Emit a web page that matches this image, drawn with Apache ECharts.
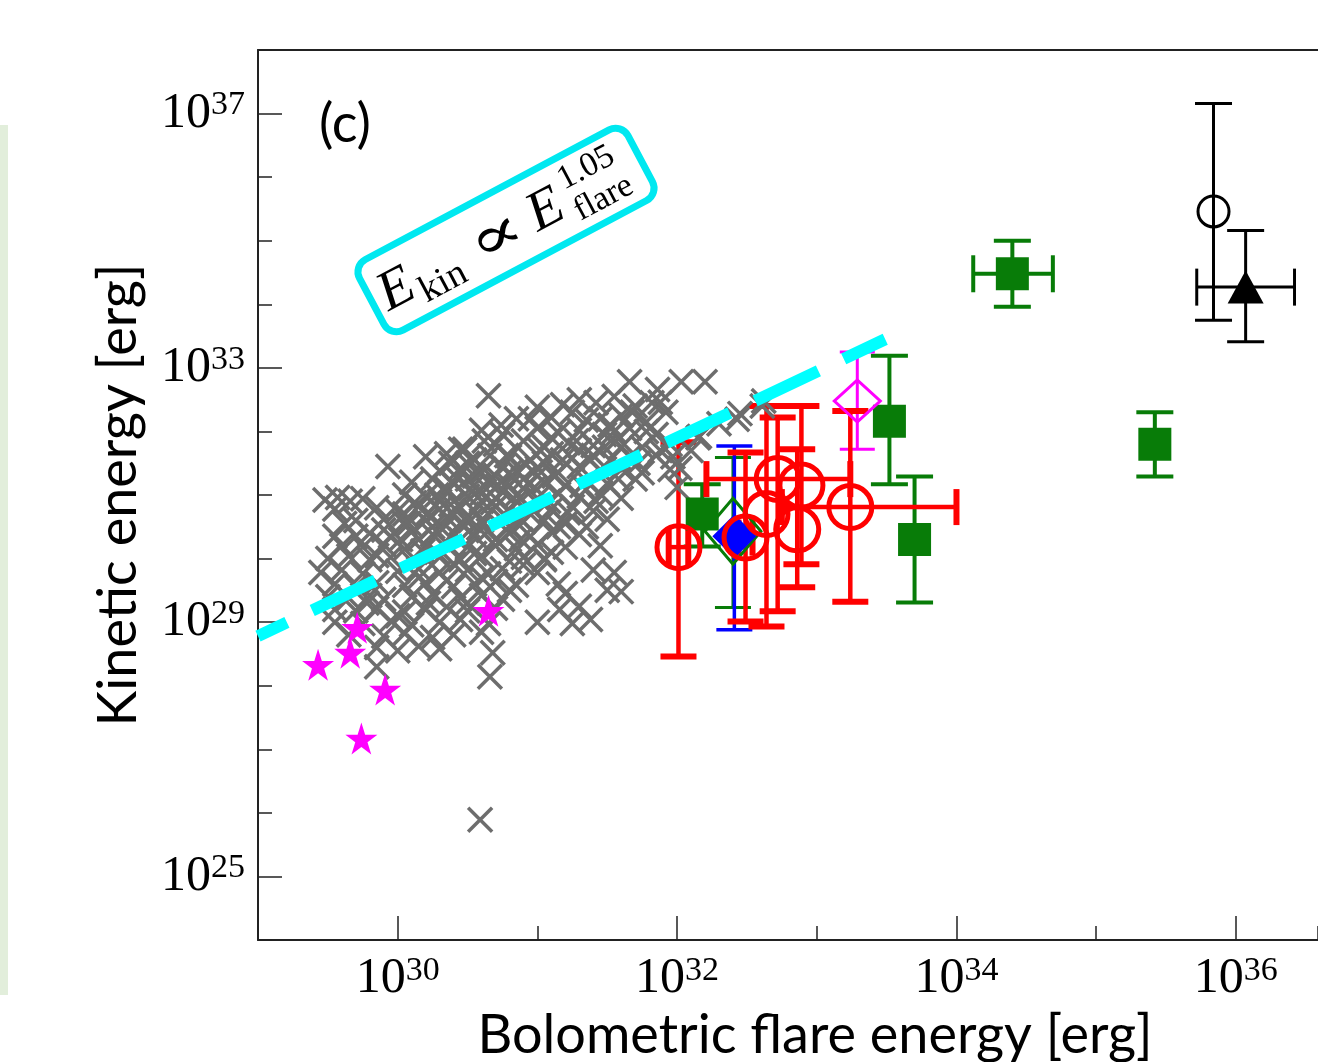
<!DOCTYPE html>
<html lang="en">
<head>
<meta charset="UTF-8">
<title>Kinetic energy vs bolometric flare energy</title>
<script src="https://cdn.jsdelivr.net/npm/echarts@6.0.0/dist/echarts.min.js"></script>
<style>
    html, body {
        margin: 0;
        padding: 0;
        background: #fff;
    }
    #chart {
        width: 1318px;
        height: 1062px;
    }
</style>
</head>
<body>
<div id="chart"></div>
<script>
    // all values are log10 of the energy in erg
    var xTicks = [30, 32, 34, 36];
    var yTicks = [25, 29, 33, 37];

    // gray crosses: [log E_flare, log E_kin]
    var crossPoints = [
        [31.66,32.78],[31.86,32.66],[32.03,32.78],[32.2,32.78],[30.65,32.56],
        [31.3,32.5],[31.42,32.45],[31.55,32.55],[31.88,32.46],
        [31.0,32.38],[31.18,32.42],[31.7,32.4],[32.45,32.28],[32.62,32.48],
        [30.85,32.2],[31.1,32.22],[31.35,32.18],[31.6,32.25],[31.78,32.15],[31.92,32.3],[32.3,32.12],
        [30.6,32.02],[30.75,31.95],[31.0,32.05],[31.15,31.98],[31.3,32.02],[31.48,31.95],[31.66,32.05],[31.85,31.95],[32.15,31.9],[32.16,31.92],
        [30.45,31.72],[30.7,31.8],[30.9,31.85],[31.05,31.75],[31.22,31.82],[31.4,31.78],[31.56,31.85],[31.75,31.75],[31.95,31.8],[32.1,31.7],
        [30.2,31.6],[30.35,31.65],[30.55,31.55],[30.66,31.62],[30.8,31.6],[30.95,31.55],[31.1,31.65],[31.25,31.58],[31.4,31.62],[31.52,31.55],[31.66,31.6],[31.85,31.62],[31.97,31.6],[32.02,31.42],
        [29.93,31.45],[30.3,31.38],[30.45,31.42],[30.6,31.35],[30.75,31.45],[30.85,31.38],[31.0,31.42],[31.15,31.35],[31.3,31.45],[31.45,31.38],[31.6,31.42],[31.75,31.35],[31.95,31.4],
        [30.1,31.2],[30.25,31.25],[30.4,31.18],[30.5,31.25],[30.65,31.2],[30.8,31.15],[30.9,31.25],[31.05,31.2],[31.2,31.15],[31.35,31.22],[31.5,31.18],[31.7,31.25],[32.0,31.12],
        [29.48,30.92],[29.57,30.96],[29.66,30.9],[29.75,30.94],[30.05,31.0],[30.2,30.98],[30.35,31.05],[30.5,30.98],[30.6,31.02],[30.7,30.95],[30.85,31.0],[31.0,30.95],[31.15,31.02],[31.3,30.98],[31.45,31.02],[31.6,30.95],
        [29.55,30.78],[29.85,30.8],[30.0,30.75],[30.15,30.82],[30.3,30.78],[30.45,30.8],[30.55,30.75],[30.7,30.82],[30.8,30.76],[30.95,30.8],[31.1,30.78],[31.25,30.82],[31.4,30.75],
        [29.7,30.6],[29.9,30.62],[30.05,30.55],[30.2,30.6],[30.35,30.65],[30.45,30.55],[30.6,30.6],[30.75,30.62],[30.9,30.58],[31.05,30.6],[31.2,30.55],
        [29.8,30.4],[29.95,30.35],[30.1,30.42],[30.25,30.38],[30.4,30.4],[30.55,30.36],[30.65,30.44],[30.8,30.4],[30.95,30.35],[31.1,30.42],[31.3,30.38],
        [29.6,30.2],[29.75,30.18],[29.9,30.22],[30.05,30.15],[30.2,30.2],[30.35,30.24],[30.5,30.18],[30.7,30.2],[30.85,30.16],[31.0,30.22],[31.2,30.18],
        [29.5,30.0],[29.65,30.04],[29.8,29.98],[29.95,30.02],[30.1,29.96],[30.3,30.02],[30.45,29.98],[30.6,30.04],[30.8,29.96],[30.9,30.02],[31.05,29.98],
        [29.45,29.78],[29.6,29.82],[29.75,29.76],[30.0,29.8],[30.15,29.84],[30.3,29.78],[30.5,29.82],[30.65,29.76],[30.75,29.84],[31.0,29.78],[31.4,29.82],[31.55,29.78],
        [29.55,29.6],[29.7,29.56],[29.85,29.62],[30.05,29.58],[30.2,29.62],[30.4,29.56],[30.55,29.6],[30.7,29.64],[30.85,29.58],[31.15,29.6],
        [29.5,29.4],[29.65,29.38],[29.8,29.42],[29.9,29.36],[30.1,29.4],[30.25,29.44],[30.45,29.38],[30.6,29.42],[30.75,29.36],[31.6,29.48],
        [29.55,29.2],[29.7,29.18],[29.85,29.22],[30.05,29.16],[30.2,29.2],[30.35,29.24],[30.5,29.18],[30.7,29.22],[31.16,29.2],[31.3,29.25],
        [29.55,29.0],[29.75,28.98],[29.95,29.02],[30.1,28.96],[30.3,29.0],[30.45,29.04],[30.65,28.98],[31.0,29.0],[31.25,28.98],[31.38,29.04],
        [29.65,28.8],[29.9,28.78],[30.05,28.82],[30.25,28.76],[30.4,28.8],[30.6,28.84],
        [29.85,28.6],[30.0,28.55],[30.15,28.62],[30.3,28.58],[30.68,28.52],
        [29.85,28.3],[30.66,28.14],[30.59,25.89],
        [30.5,31.5],[30.7,31.3],[30.9,31.1],[30.6,30.9],[30.4,30.7],[30.8,30.5],[30.3,30.9],[30.55,31.3],
        [30.75,31.05],[31.0,31.3],[30.45,30.3],[30.65,30.7],[30.85,30.9],[31.05,31.5],[30.35,31.1],[30.25,30.5],
        [30.95,30.7],[30.15,30.3],[32.43,32.19],[32.61,32.4],
        [30.02,30.3],[30.08,30.55],[30.12,30.88],[30.18,30.12],[30.22,30.72],[30.28,31.0],[30.32,30.46],[30.38,30.85],
        [30.42,31.28],[30.48,30.62],[30.52,31.1],[30.58,30.48],[30.62,31.4],[30.68,30.88],[30.72,31.15],[30.78,31.62],
        [30.82,31.28],[30.88,30.62],[30.92,31.48],[30.98,31.12],[31.02,31.7],[31.08,30.9],[31.12,31.3],[31.18,31.55],
        [31.22,30.72],[31.28,31.85],[31.32,31.15],[31.38,31.55],[31.42,30.9],[31.48,31.75],[31.52,32.1],[31.58,31.25],
        [31.62,31.8],[31.68,32.3],[31.72,31.5],[31.78,32.0],[31.82,32.45],[31.88,31.7],[30.28,30.1],[30.4,29.92],
        [30.55,30.08],[30.7,30.3],[30.15,29.7],[30.35,29.65],[30.6,29.7],[30.9,29.9],[31.1,30.1],[31.35,30.5],
        [31.5,30.62],[31.45,30.2],[30.05,30.7],[29.9,30.45],[29.85,30.05],[29.7,30.35],[29.62,30.55],[29.55,30.35],
        [30.48,31.72],[30.62,31.85],[30.74,32.1],[30.95,32.2],[31.25,32.3],[31.45,32.2],[30.52,30.6],[30.8,31.35],
        [30.58,31.08],[30.38,31.5],[31.1,31.9],[31.3,31.7],[31.55,32.0],[31.15,30.5],[30.88,30.3],[31.05,30.0],
        [30.22,29.3],[30.5,29.3],[30.8,29.5],[30.0,29.1],[29.78,29.3],[31.2,29.45],[31.5,29.5]
    ];

    // magenta stars
    var starPoints = [[29.43,28.33],[29.71,28.91],[29.66,28.52],[29.91,27.94],[29.74,27.17],[30.65,29.18]];

    // rows: [x, y, xLow, xHigh, yLow, yHigh]
    var redRows = [
        [32.01, 30.18, 31.94, 32.08, 28.46, 31.83],
        [32.49, 30.33, 32.44, 32.54, 29.01, 31.67],
        [32.64, 30.70, 32.64, 32.64, 28.93, 32.40],
        [32.72, 31.25, 32.21, 33.24, 29.17, 32.22],
        [32.89, 31.15, 32.89, 32.89, 29.91, 32.40],
        [32.86, 30.46, 32.86, 32.86, 29.55, 31.72],
        [33.24, 30.81, 32.75, 34.00, 29.32, 32.32]
    ];
    var greenSquareRows = [
        [32.18, 30.70, 32.18, 32.18, 30.19, 31.17],
        [33.52, 32.16, 33.52, 33.52, 31.17, 33.19],
        [33.70, 30.30, 33.70, 33.70, 29.31, 31.29],
        [34.40, 34.48, 34.12, 34.69, 33.96, 35.00],
        [35.42, 31.80, 35.42, 35.42, 31.29, 32.30]
    ];
    var greenDiamondRows = [[32.40, 30.43, 32.40, 32.40, 29.23, 31.59]];
    var blueRows = [[32.41, 30.35, 32.41, 32.41, 28.88, 31.77]];
    var magentaRows = [[33.29, 32.48, 33.29, 33.29, 31.72, 33.25]];
    var blackCircleRows = [[35.84, 35.46, 35.84, 35.84, 33.75, 37.16]];
    var blackTriangleRows = [[36.07, 34.27, 35.72, 36.42, 33.41, 35.16]];

    // fitted power law E_kin ~ E_flare^1.05 (two ends)
    var fitLine = [[29.0, 28.78], [33.49, 33.45]];

    var SERIF = '"Liberation Serif", "DejaVu Serif", serif';
    var SANS = 'Lato, "Liberation Sans", sans-serif';
    var CROSS = 'path://M0,0L10,10M10,0L0,10';
    var STAR = 'path://M50,0L61.2,34.5L97.6,34.5L68.2,55.9L79.4,90.5L50,69.1L20.6,90.5L31.8,55.9L2.4,34.5L38.8,34.5Z';
    var AXIS_COLOR = '#222';

    function tickRich() {
        return {
            b: {fontFamily: SERIF, fontSize: 50, color: '#000', lineHeight: 50},
            s: {fontFamily: SERIF, fontSize: 34, color: '#000', verticalAlign: 'top', lineHeight: 34}
        };
    }

    function powLabel(v) {
        return '{b|10}{s|' + v + '}';
    }

    function errorBars(rows, color, lw, capW, capLw) {
        return {
            type: 'custom',
            silent: true,
            data: rows,
            renderItem: function (params, api) {
                var x = api.value(0), y = api.value(1);
                var xlo = api.value(2), xhi = api.value(3), ylo = api.value(4), yhi = api.value(5);
                var kids = [];
                var st = {stroke: color, lineWidth: lw};
                var cs = {stroke: color, lineWidth: capLw};
                var h = capW / 2;
                if (ylo !== yhi) {
                    var a = api.coord([x, ylo]), b = api.coord([x, yhi]);
                    kids.push({type: 'line', shape: {x1: a[0], y1: a[1], x2: b[0], y2: b[1]}, style: st});
                    kids.push({type: 'line', shape: {x1: a[0] - h, y1: a[1], x2: a[0] + h, y2: a[1]}, style: cs});
                    kids.push({type: 'line', shape: {x1: b[0] - h, y1: b[1], x2: b[0] + h, y2: b[1]}, style: cs});
                }
                if (xlo !== xhi) {
                    var c = api.coord([xlo, y]), d = api.coord([xhi, y]);
                    kids.push({type: 'line', shape: {x1: c[0], y1: c[1], x2: d[0], y2: d[1]}, style: st});
                    kids.push({type: 'line', shape: {x1: c[0], y1: c[1] - h, x2: c[0], y2: c[1] + h}, style: cs});
                    kids.push({type: 'line', shape: {x1: d[0], y1: d[1] - h, x2: d[0], y2: d[1] + h}, style: cs});
                }
                return {type: 'group', children: kids};
            }
        };
    }

    function markers(rows, symbol, size, fill, stroke, bw) {
        return {
            type: 'scatter',
            silent: true,
            symbol: symbol,
            symbolSize: size,
            data: rows.map(function (r) { return [r[0], r[1]]; }),
            itemStyle: {color: fill, borderColor: stroke, borderWidth: bw, opacity: 1}
        };
    }

    var NONE = 'rgba(0,0,0,0)';
    var GREEN = '#087c08';

    var myChart = echarts.init(document.getElementById('chart'));
    var option = {
        animation: false,
        backgroundColor: '#fff',
        grid: {left: 258, top: 50, right: 0, bottom: 122, containLabel: false, outerBoundsMode: 'none'},
        xAxis: [{
            type: 'value',
            min: 29, max: 36.588,
            name: 'Bolometric flare energy [erg]',
            nameLocation: 'middle',
            nameGap: 62,
            nameTextStyle: {fontFamily: SANS, fontSize: 54, color: '#000', padding: [0, 0, 0, 54]},
            axisLine: {show: true, lineStyle: {color: AXIS_COLOR, width: 2}},
            axisTick: {show: true, inside: true, length: 24, customValues: xTicks, lineStyle: {color: AXIS_COLOR, width: 1.5}},
            splitLine: {show: false},
            axisLabel: {margin: 14, customValues: xTicks, formatter: powLabel, rich: tickRich()}
        }, {
            // unlabelled decade ticks
            type: 'value', position: 'bottom',
            min: 29, max: 36.588, interval: 1,
            axisLine: {show: false},
            axisTick: {show: true, inside: true, length: 14, lineStyle: {color: AXIS_COLOR, width: 1.5}},
            axisLabel: {show: false}, splitLine: {show: false}
        }, {
            // top frame
            type: 'value', position: 'top',
            min: 29, max: 36.588,
            axisLine: {show: true, lineStyle: {color: AXIS_COLOR, width: 2}},
            axisTick: {show: false}, axisLabel: {show: false}, splitLine: {show: false}
        }],
        yAxis: [{
            type: 'value',
            min: 24, max: 38,
            name: 'Kinetic energy [erg]',
            nameLocation: 'middle',
            nameGap: 112,
            nameTextStyle: {fontFamily: SANS, fontSize: 54, color: '#000'},
            axisLine: {show: true, lineStyle: {color: AXIS_COLOR, width: 2}},
            axisTick: {show: true, inside: true, length: 24, customValues: yTicks, lineStyle: {color: AXIS_COLOR, width: 1.5}},
            splitLine: {show: false},
            axisLabel: {margin: 13, customValues: yTicks, formatter: powLabel, rich: tickRich()}
        }, {
            type: 'value', position: 'left',
            min: 24, max: 38, interval: 1,
            axisLine: {show: false},
            axisTick: {show: true, inside: true, length: 14, lineStyle: {color: AXIS_COLOR, width: 1.5}},
            axisLabel: {show: false}, splitLine: {show: false}
        }],
        graphic: [
            {type: 'rect', shape: {x: 0, y: 125, width: 8, height: 870}, style: {fill: '#e2eedb'}, silent: true},
            {type: 'text', x: 345, y: 125, style: {text: '(c)', font: '54px ' + SANS, fill: '#000', align: 'center', verticalAlign: 'middle'}, silent: true},
            {
                type: 'group', x: 506, y: 230, rotation: 28 * Math.PI / 180, silent: true, z: 100,
                children: [
                    {type: 'rect', shape: {x: -152, y: -40, width: 304, height: 80, r: 14}, style: {fill: '#fff', stroke: '#00e8f0', lineWidth: 7}},
                    {type: 'text', style: {x: -142, y: 30, text: 'E', font: 'italic 56px ' + SERIF, fill: '#000', align: 'left', verticalAlign: 'bottom'}},
                    {type: 'text', style: {x: -104, y: 36, text: 'kin', font: '38px ' + SERIF, fill: '#000', align: 'left', verticalAlign: 'bottom'}},
                    {type: 'text', x: -12, y: 4, scaleX: 1.35, style: {x: 0, y: 0, text: '\u221D', font: '60px "DejaVu Serif", serif', fill: '#000', align: 'center', verticalAlign: 'middle'}},
                    {type: 'text', style: {x: 27, y: 30, text: 'E', font: 'italic 56px ' + SERIF, fill: '#000', align: 'left', verticalAlign: 'bottom'}},
                    {type: 'text', style: {x: 70, y: 0, text: '1.05', font: '34px ' + SERIF, fill: '#000', align: 'left', verticalAlign: 'bottom'}},
                    {type: 'text', style: {x: 70, y: 35, text: 'flare', font: '34px ' + SERIF, fill: '#000', align: 'left', verticalAlign: 'bottom'}}
                ]
            }
        ],
        series: [
            markers(crossPoints, CROSS, 24, NONE, '#6d6d6d', 3.5),
            errorBars(greenSquareRows, GREEN, 4, 37, 4),
            errorBars(greenDiamondRows, GREEN, 3, 36, 3),
            markers(greenSquareRows, 'rect', 33, GREEN, GREEN, 0),
            markers(greenDiamondRows, 'diamond', [56, 66], NONE, GREEN, 3),
            errorBars(blueRows, '#0000ff', 3.5, 36, 3.5),
            markers(blueRows, 'diamond', [44, 44], '#0000ff', '#0000ff', 0),
            errorBars(magentaRows, '#ff00ff', 3, 35, 3),
            markers(magentaRows, 'diamond', [46, 42], NONE, '#ff00ff', 3),
            markers(starPoints, STAR, 32, '#ff00ff', '#ff00ff', 0),
            errorBars(redRows, '#ff0000', 4.5, 36, 6),
            markers(redRows, 'circle', 43, NONE, '#ff0000', 5),
            errorBars(blackCircleRows, '#000', 3, 37, 3),
            errorBars(blackTriangleRows, '#000', 3, 37, 3),
            markers(blackCircleRows, 'circle', 31, NONE, '#000', 3),
            markers(blackTriangleRows, 'triangle', [36, 33], '#000', '#000', 0),
            {
                type: 'line',
                silent: true,
                data: fitLine,
                symbol: 'none',
                lineStyle: {color: '#00ffff', width: 12, type: [70, 28], dashOffset: 38, cap: 'butt'}
            }
        ]
    };
    myChart.setOption(option);
    window.addEventListener('resize', function () {
        myChart.resize();
    });
</script>
</body>
</html>
